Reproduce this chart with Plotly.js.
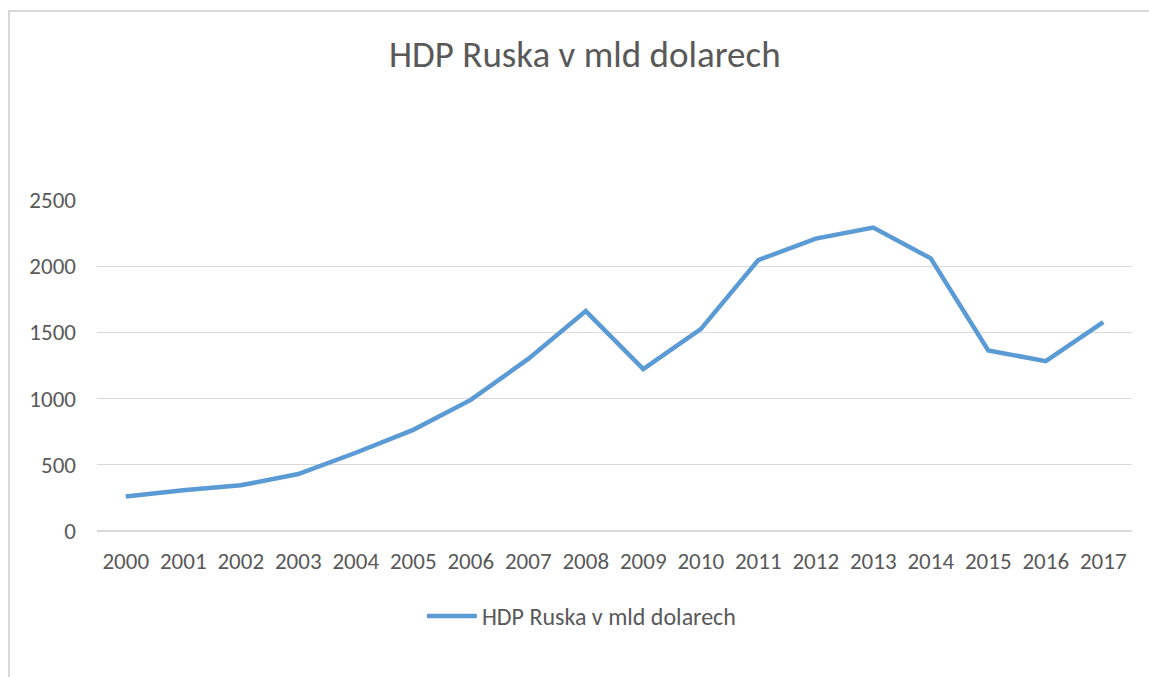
<!DOCTYPE html>
<html>
<head>
<meta charset="utf-8">
<script src="https://cdn.plot.ly/plotly-3.0.1.min.js"></script>
<style>
body { margin: 0; background: #fff; }
#wrap { position: relative; width: 1149px; height: 677px; overflow: hidden; }
#chart { width: 1149px; height: 677px; }
#frame { position: absolute; left: 8px; top: 10px; width: 1200px; height: 720px; border: 2px solid #d9d9d9; pointer-events: none; }
</style>
</head>
<body>
<div id="wrap">
<div id="chart"></div>
<div id="frame"></div>
</div>
<script>
const years = ["2000","2001","2002","2003","2004","2005","2006","2007","2008","2009","2010","2011","2012","2013","2014","2015","2016","2017"];
const gdp = [260, 307, 345, 430, 591, 764, 990, 1300, 1661, 1223, 1525, 2046, 2208, 2292, 2059, 1363, 1283, 1578];
const seriesName = "HDP Ruska v mld dolarech";
const chartTitle = "HDP Ruska v mld dolarech";

const font = "Carlito, 'Open Sans', 'Liberation Sans', sans-serif";
const textColor = "#595959";

Plotly.newPlot("chart", [{
  type: "scatter",
  mode: "lines",
  x: years,
  y: gdp,
  name: seriesName,
  line: { color: "#5b9bd5", width: 4.5 },
  showlegend: true
}], {
  width: 1149,
  height: 677,
  margin: { l: 97, r: 17, t: 200, b: 146 },
  paper_bgcolor: "#fff",
  plot_bgcolor: "#fff",
  font: { family: font, color: textColor, size: 23 },
  title: {
    text: chartTitle,
    font: { family: font, size: 37, color: textColor },
    x: 0.509, xanchor: "center",
    y: 0.92, yanchor: "middle"
  },
  xaxis: {
    type: "category",
    range: [-0.5, 17.5],
    showgrid: false,
    zeroline: false,
    showline: false,
    ticks: "",
    ticklabelstandoff: 14,
    tickfont: { size: 23, color: textColor }
  },
  yaxis: {
    range: [0, 2500],
    tickvals: [0, 500, 1000, 1500, 2000, 2500],
    showgrid: true,
    gridcolor: "#d9d9d9",
    gridwidth: 1.3,
    zeroline: true,
    zerolinecolor: "#d9d9d9",
    zerolinewidth: 1.3,
    showline: false,
    ticks: "",
    ticklabelstandoff: 20,
    tickfont: { size: 23, color: textColor }
  },
  showlegend: true,
  legend: {
    orientation: "h",
    x: 0.468, xanchor: "center",
    y: -0.258, yanchor: "middle",
    font: { size: 24, color: textColor },
    itemwidth: 50
  }
}, { displayModeBar: false, staticPlot: true });
</script>
</body>
</html>
